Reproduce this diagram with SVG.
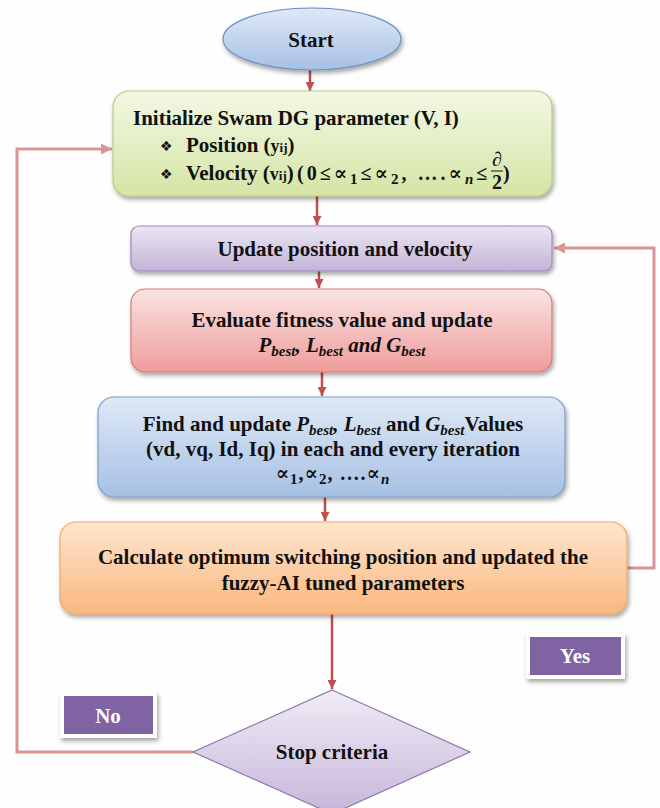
<svg xmlns="http://www.w3.org/2000/svg" width="660" height="808" viewBox="0 0 660 808">
<style>
.t{font-family:"Liberation Serif","Times New Roman",serif;font-weight:bold;font-size:21px;fill:#111}
.m{font-family:"Liberation Serif","Times New Roman",serif;font-weight:bold;font-style:italic;font-size:21px;fill:#111}
.mu{font-family:"Liberation Serif","DejaVu Serif",serif;font-weight:bold;font-size:20px;fill:#111}
.sub{font-size:15px}
.w{font-family:"Liberation Serif","Times New Roman",serif;font-weight:bold;font-size:21px;fill:#fff}
.dn{stroke:#c0504d;stroke-width:2.5;fill:none}
.lp{stroke:#d99594;stroke-width:3;fill:none}
.lbl{fill:#8064a2;stroke:#fff;stroke-width:4}
</style>
<defs>
<filter id="sh" x="-10%" y="-10%" width="120%" height="130%">
<feDropShadow dx="1.5" dy="3" stdDeviation="2" flood-color="#000" flood-opacity="0.35"/>
</filter>
<linearGradient id="gBlue" x1="0" y1="0" x2="0" y2="1"><stop offset="0" stop-color="#dfe9f6"/><stop offset="1" stop-color="#a6c0e4"/></linearGradient>
<linearGradient id="gGreen" x1="0" y1="0" x2="0" y2="1"><stop offset="0" stop-color="#f3f8e4"/><stop offset="1" stop-color="#d4e5a5"/></linearGradient>
<linearGradient id="gPurple" x1="0" y1="0" x2="0" y2="1"><stop offset="0" stop-color="#ebe6f2"/><stop offset="1" stop-color="#c3b4d8"/></linearGradient>
<linearGradient id="gRed" x1="0" y1="0" x2="0" y2="1"><stop offset="0" stop-color="#fbe3e3"/><stop offset="1" stop-color="#ee9d9b"/></linearGradient>
<linearGradient id="gOrange" x1="0" y1="0" x2="0" y2="1"><stop offset="0" stop-color="#fee6cf"/><stop offset="1" stop-color="#f9b77e"/></linearGradient>
<linearGradient id="gDia" x1="0" y1="0" x2="0" y2="1"><stop offset="0" stop-color="#f0ecf6"/><stop offset="1" stop-color="#c6b6da"/></linearGradient>
<marker id="aDn" viewBox="0 0 10 10" refX="10" refY="5" markerWidth="9" markerHeight="9" markerUnits="userSpaceOnUse" orient="auto"><path d="M0,0 L10,5 L0,10 z" fill="#c0504d"/></marker>
<marker id="aLp" viewBox="0 0 10 10" refX="10" refY="5" markerWidth="11" markerHeight="11" markerUnits="userSpaceOnUse" orient="auto"><path d="M0,0 L10,5 L0,10 z" fill="#d99594"/></marker>
</defs>
<rect width="660" height="808" fill="#fefefe"/>

<g id="connectors">
<line class="dn" x1="310" y1="70" x2="310" y2="91" marker-end="url(#aDn)"/>
<line class="dn" x1="317" y1="196" x2="317" y2="225" marker-end="url(#aDn)"/>
<line class="dn" x1="319" y1="271" x2="319" y2="288" marker-end="url(#aDn)"/>
<line class="dn" x1="322" y1="372" x2="322" y2="396" marker-end="url(#aDn)"/>
<line class="dn" x1="325" y1="497" x2="325" y2="521" marker-end="url(#aDn)"/>
<line class="dn" x1="332" y1="614" x2="332" y2="689" marker-end="url(#aDn)"/>
<polyline class="lp" points="193,752 17,752 17,149 112,149" marker-end="url(#aLp)"/>
<polyline class="lp" points="627,568 654,568 654,248 554,248" marker-end="url(#aLp)"/>
</g>

<g id="start">
<ellipse cx="312" cy="39" rx="89" ry="31" fill="url(#gBlue)" stroke="#6f8fbf" stroke-width="1.2" filter="url(#sh)"/>
<text class="t" x="311" y="47" text-anchor="middle">Start</text>
</g>

<g id="init">
<rect x="113" y="91" width="439" height="105" rx="16" fill="url(#gGreen)" stroke="#b7cc84" stroke-width="1.2" filter="url(#sh)"/>
<text class="t" x="133" y="125">Initialize Swam DG parameter (V, I)</text>
<text x="160" y="151" font-family="DejaVu Sans,sans-serif" font-size="14" fill="#111">❖</text>
<text class="t" x="186" y="152">Position (<tspan font-size="18">y</tspan><tspan font-size="13">ij</tspan>)</text>
<text x="160" y="179" font-family="DejaVu Sans,sans-serif" font-size="14" fill="#111">❖</text>
<text class="t" x="186" y="180">Velocity (<tspan font-size="18">v</tspan><tspan font-size="13">ij</tspan>)</text>
<text class="mu" x="297" y="180" font-size="22" letter-spacing="3">(0≤∝<tspan class="sub" dy="4">1</tspan><tspan dy="-4">≤∝</tspan><tspan class="sub" dy="4">2</tspan><tspan dy="-4">, ….∝</tspan><tspan class="sub" dy="4" font-style="italic">n</tspan><tspan dy="-4">≤</tspan></text>
<text class="mu" x="497" y="166" font-size="13" text-anchor="middle" font-style="italic">∂</text>
<line x1="491" y1="171" x2="503" y2="171" stroke="#111" stroke-width="1"/>
<text class="mu" x="497" y="189" font-size="13" text-anchor="middle">2</text>
<text class="mu" x="503" y="180">)</text>
</g>

<g id="update">
<rect x="131" y="226" width="421" height="45" rx="8" fill="url(#gPurple)" stroke="#9d88bd" stroke-width="1.2" filter="url(#sh)"/>
<text class="t" x="345" y="256" text-anchor="middle">Update position and velocity</text>
</g>

<g id="evaluate">
<rect x="131" y="289" width="421" height="83" rx="14" fill="url(#gRed)" stroke="#d57a78" stroke-width="1.2" filter="url(#sh)"/>
<text class="t" x="342" y="327" text-anchor="middle">Evaluate fitness value and update</text>
<text class="m" x="342" y="352" text-anchor="middle">P<tspan class="sub" dy="4">best</tspan><tspan dy="-4">, L</tspan><tspan class="sub" dy="4">best</tspan><tspan dy="-4"> and G</tspan><tspan class="sub" dy="4">best</tspan></text>
</g>

<g id="find">
<rect x="98" y="397" width="467" height="100" rx="16" fill="url(#gBlue)" stroke="#7b9dcf" stroke-width="1.2" filter="url(#sh)"/>
<text class="t" x="333" y="431" text-anchor="middle">Find and update <tspan class="m">P</tspan><tspan class="m sub" dy="4">best</tspan><tspan class="m" dy="-4">, L</tspan><tspan class="m sub" dy="4">best</tspan><tspan dy="-4"> and </tspan><tspan class="m">G</tspan><tspan class="m sub" dy="4">best</tspan><tspan dy="-4">Values</tspan></text>
<text class="t" x="333" y="456" text-anchor="middle">(vd, vq, Id, Iq) in each and every iteration</text>
<text class="mu" x="333" y="480" text-anchor="middle" font-size="22" letter-spacing="1">∝<tspan class="sub" dy="4">1</tspan><tspan dy="-4">,∝</tspan><tspan class="sub" dy="4">2</tspan><tspan dy="-4">, ….∝</tspan><tspan class="sub" dy="4" font-style="italic">n</tspan></text>
</g>

<g id="calculate">
<rect x="60" y="522" width="567" height="92" rx="16" fill="url(#gOrange)" stroke="#f3a868" stroke-width="1.2" filter="url(#sh)"/>
<text class="t" x="343" y="564" text-anchor="middle">Calculate optimum switching position and updated the</text>
<text class="t" x="343" y="590" text-anchor="middle">fuzzy-AI tuned parameters</text>
</g>

<g id="stop">
<polygon points="332,690 470,752 332,814 193,752" fill="url(#gDia)" stroke="#8a78ad" stroke-width="1.2"/>
<text class="t" x="332" y="759" text-anchor="middle">Stop criteria</text>
</g>

<g id="no">
<rect class="lbl" x="62" y="694" width="93" height="42" filter="url(#sh)"/>
<text class="w" x="108" y="723" text-anchor="middle">No</text>
</g>

<g id="yes">
<rect class="lbl" x="528" y="635" width="95" height="42" filter="url(#sh)"/>
<text class="w" x="575" y="663" text-anchor="middle">Yes</text>
</g>
</svg>
